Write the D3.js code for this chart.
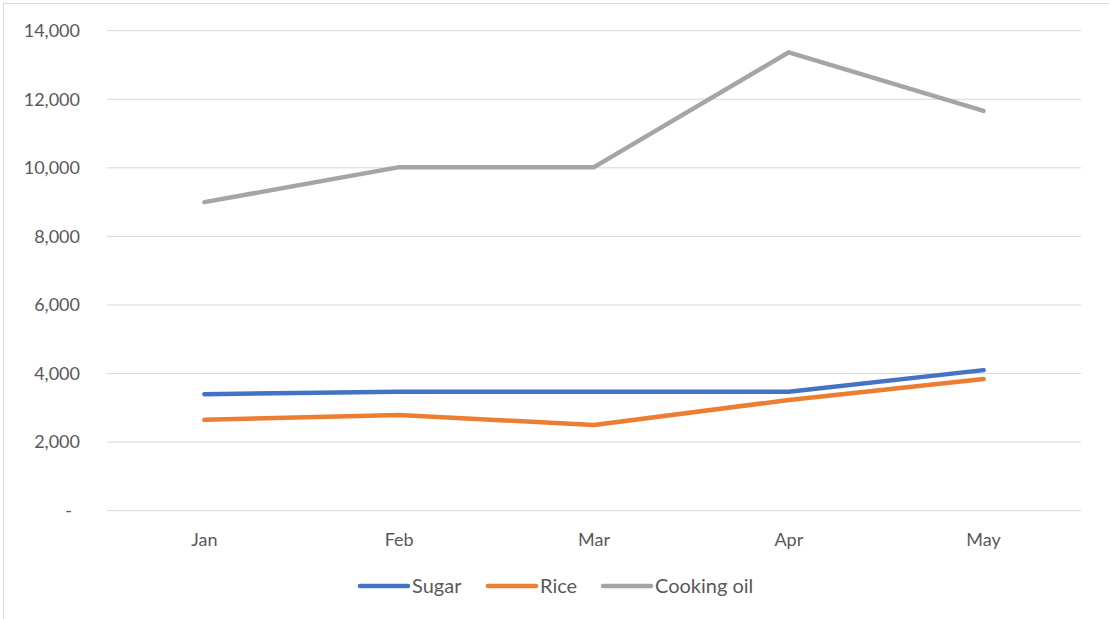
<!DOCTYPE html>
<html>
<head>
<meta charset="utf-8">
<script src="https://cdn.jsdelivr.net/npm/d3@7"></script>
<style>
  body { margin: 0; background: #fff; }
  text { font-family: Lato, "Open Sans", sans-serif; fill: #595959; }
</style>
</head>
<body>
<div class="viz"></div>
<script>
const months = ['Jan', 'Feb', 'Mar', 'Apr', 'May']
const sugar = [3400, 3470, 3470, 3470, 4100]
const rice = [2650, 2790, 2500, 3230, 3840]
const cookingOil = [9000, 10020, 10020, 13370, 11660]
const yTicks = [0, 2000, 4000, 6000, 8000, 10000, 12000, 14000]

const seriesNames = ['Sugar', 'Rice', 'Cooking oil']
const seriesValues = [sugar, rice, cookingOil]
const colors = ['#4472C4', '#ED7D31', '#A5A5A5']

const width = 1109
const height = 619
const plotLeft = 107, plotRight = 1081, plotTop = 30.7, plotBottom = 510.7

const svg = d3.select('.viz')
  .append('svg')
  .attr('width', width)
  .attr('height', height)

// chart border
svg.append('rect')
  .attr('x', 3.5).attr('y', 3.5)
  .attr('width', width + 10).attr('height', height + 10)
  .attr('fill', 'none')
  .attr('stroke', '#d9d9d9')

const x = d3.scalePoint().domain(months).range([plotLeft, plotRight]).padding(0.5)
const y = d3.scaleLinear().domain([0, 14000]).range([plotBottom, plotTop])

// gridlines
svg.append('g')
  .selectAll('line')
  .data(yTicks)
  .enter()
  .append('line')
  .attr('x1', plotLeft).attr('x2', plotRight)
  .attr('y1', d => y(d)).attr('y2', d => y(d))
  .attr('stroke', '#d9d9d9')
  .attr('stroke-width', 1)

// y labels
const fmt = d3.format(',')
svg.append('g')
  .selectAll('text')
  .data(yTicks)
  .enter()
  .append('text')
  .text(d => d === 0 ? '-' : fmt(d))
  .attr('x', d => d === 0 ? 72 : 80)
  .attr('y', d => y(d))
  .attr('dy', '0.35em')
  .attr('text-anchor', 'end')
  .style('font-size', '18px')

// x labels
svg.append('g')
  .selectAll('text')
  .data(months)
  .enter()
  .append('text')
  .text(d => d)
  .attr('x', d => x(d))
  .attr('y', 546)
  .attr('text-anchor', 'middle')
  .style('font-size', '18px')

// lines
const line = d3.line()
  .x((d, i) => x(months[i]))
  .y(d => y(d))

svg.append('g')
  .selectAll('path')
  .data(seriesValues)
  .enter()
  .append('path')
  .attr('d', d => line(d))
  .attr('fill', 'none')
  .attr('stroke', (d, i) => colors[i])
  .attr('stroke-width', 4.5)
  .attr('stroke-linecap', 'round')
  .attr('stroke-linejoin', 'round')

// legend
const legendX = [360, 488, 603]
const legend = svg.append('g')
  .selectAll('g')
  .data(seriesNames)
  .enter()
  .append('g')
  .attr('transform', (d, i) => `translate(${legendX[i]}, 586)`)

legend.append('line')
  .attr('x1', 0).attr('x2', 48)
  .attr('stroke', (d, i) => colors[i])
  .attr('stroke-width', 4.5)
  .attr('stroke-linecap', 'round')

legend.append('text')
  .text(d => d)
  .attr('x', 52)
  .attr('dy', '0.35em')
  .style('font-size', '20px')
</script>
</body>
</html>
